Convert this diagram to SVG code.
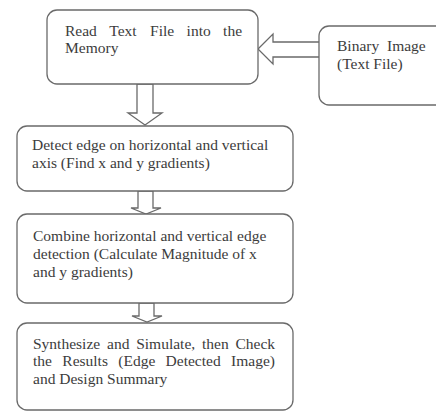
<svg xmlns="http://www.w3.org/2000/svg" width="436" height="412" viewBox="0 0 436 412">
<style>
.box{fill:#fff;stroke:#6a6a6a;stroke-width:1.3}
.arr{fill:#fff;stroke:#6a6a6a;stroke-width:1.3;stroke-linejoin:miter}
text{font-family:"Liberation Serif","Times New Roman",serif;font-size:15.5px;fill:#3c3c3c}
</style>
<rect width="436" height="412" fill="#fff"/>
<g id="connectors">
<polygon class="arr" points="258,49 273,34 273,42 320,42 320,57 273,57 273,64"/>
<polygon class="arr" points="137,84 153,84 153,113 162,113 145,125 128,113 137,113"/>
<polygon class="arr" points="138,191 153,191 153,208 161,208 146,214 131,208 138,208"/>
<polygon class="arr" points="139,303 154,303 154,316 162,316 147,322 132,316 139,316"/>
</g>
<g id="node-read">
<rect class="box" x="47" y="10" width="211" height="74" rx="10"/>
<text y="36"><tspan x="65">Read</tspan><tspan x="109.3">Text</tspan><tspan x="150.1">File</tspan><tspan x="186.6">into</tspan><tspan x="223.1">the</tspan></text>
<text x="65" y="53">Memory</text>
</g>
<g id="node-binary">
<rect class="box" x="319" y="26" width="140" height="79" rx="10"/>
<text y="51"><tspan x="337">Binary</tspan><tspan x="387">Image</tspan></text>
<text x="337" y="69">(Text File)</text>
</g>
<g id="node-detect">
<rect class="box" x="17" y="126" width="276" height="65" rx="10"/>
<text x="32" y="150">Detect edge on horizontal and vertical</text>
<text x="32" y="168">axis (Find x and y gradients)</text>
</g>
<g id="node-combine">
<rect class="box" x="17" y="214" width="276" height="89" rx="10"/>
<text x="33" y="241">Combine horizontal and vertical edge</text>
<text x="33" y="259">detection (Calculate Magnitude of x</text>
<text x="33" y="277">and y gradients)</text>
</g>
<g id="node-synth">
<rect class="box" x="17" y="323" width="276" height="87" rx="10"/>
<text y="349"><tspan x="33">Synthesize</tspan><tspan x="107">and</tspan><tspan x="136.2">Simulate,</tspan><tspan x="202">then</tspan><tspan x="235.5">Check</tspan></text>
<text y="366"><tspan x="33">the</tspan><tspan x="62.3">Results</tspan><tspan x="118.3">(Edge</tspan><tspan x="165.6">Detected</tspan><tspan x="231.1">Image)</tspan></text>
<text x="33" y="384">and Design Summary</text>
</g>
</svg>
